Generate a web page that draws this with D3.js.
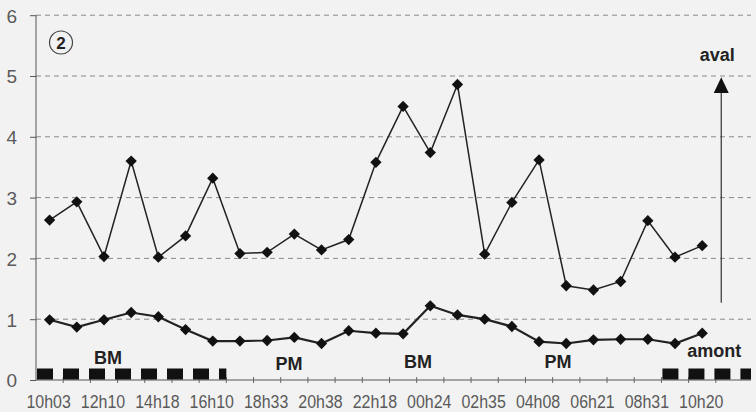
<!DOCTYPE html>
<html>
<head>
<meta charset="utf-8">
<script src="https://cdn.jsdelivr.net/npm/d3@7"></script>
<style>
  html, body { margin: 0; padding: 0; background: #f2f2f2; }
  svg { display: block; }
  .tick-label { font-family: "Liberation Sans Narrow", "Liberation Sans", sans-serif; fill: #5a5a5a; }
  .note { font-family: "Liberation Sans", Arial, sans-serif; font-weight: bold; fill: #222; }
</style>
</head>
<body>
<svg id="chart" width="756" height="412"></svg>
<script>
// Sampling times (one label every other measurement)
const timeLabels = ["10h03", "12h10", "14h18", "16h10", "18h33", "20h38", "22h18",
                    "00h24", "02h35", "04h08", "06h21", "08h31", "10h20"];
// Measurement slots (25 samples, one extra empty slot at the end of the axis)
const slots = d3.range(26);

// Downstream (aval) series
const avalValues = [2.63, 2.93, 2.03, 3.60, 2.02, 2.37, 3.32, 2.08, 2.10, 2.40, 2.14, 2.31,
                    3.58, 4.50, 3.74, 4.86, 2.07, 2.92, 3.62, 1.55, 1.48, 1.62, 2.62, 2.02, 2.21];
// Upstream (amont) series
const amontValues = [0.99, 0.87, 0.99, 1.11, 1.04, 0.83, 0.64, 0.64, 0.65, 0.70, 0.60, 0.81,
                     0.77, 0.76, 1.22, 1.07, 1.00, 0.88, 0.63, 0.60, 0.66, 0.67, 0.67, 0.60, 0.77];
// Y axis ticks
const yTicks = [0, 1, 2, 3, 4, 5, 6];
// Night periods shown as a black band on the time axis (slot start, slot end)
const nightSpans = [[0, 7], [23, 26]];
// Tide phase labels
const tideLabels = ["BM", "PM", "BM", "PM"];

const svg = d3.select("#chart");

const x = d3.scaleBand().domain(slots).range([36, 743]).padding(0);
const y = d3.scaleLinear().domain([0, 6]).range([380, 15.2]);
const cx = i => x(i) + x.bandwidth() / 2;
const gridRight = 751;

// Horizontal dashed grid lines
svg.append("g")
  .selectAll("line")
  .data(yTicks.filter(d => d > 0))
  .join("line")
  .attr("x1", x.range()[0]).attr("x2", gridRight)
  .attr("y1", d => y(d)).attr("y2", d => y(d))
  .attr("stroke", "#8a8a8a").attr("stroke-width", 1)
  .attr("stroke-dasharray", "5,4");

// Y axis
const yAxis = svg.append("g")
  .attr("transform", `translate(${x.range()[0]},0)`)
  .call(d3.axisLeft(y).tickValues(yTicks).tickSize(6).tickPadding(13).tickFormat(d3.format("d")));
yAxis.select(".domain").attr("stroke", "#555").attr("d", `M0,${y(0)}V${y(6)}`);
yAxis.selectAll(".tick line").attr("stroke", "#555");
yAxis.selectAll(".tick text").attr("class", "tick-label").attr("font-size", 19).attr("dy", "0.36em");

// X axis: ticks at slot boundaries, labels under every other sample
const xAxis = svg.append("g").attr("transform", `translate(0,${y(0)})`);
xAxis.append("line")
  .attr("x1", x.range()[0]).attr("x2", gridRight)
  .attr("y1", 0).attr("y2", 0)
  .attr("stroke", "#555").attr("stroke-width", 1);
xAxis.selectAll("line.tk")
  .data(slots.slice(1))
  .join("line")
  .attr("class", "tk")
  .attr("x1", d => x(d)).attr("x2", d => x(d))
  .attr("y1", -3).attr("y2", 3)
  .attr("stroke", "#666");
xAxis.selectAll("text")
  .data(timeLabels)
  .join("text")
  .attr("class", "tick-label")
  .attr("font-size", 19)
  .attr("text-anchor", "middle")
  .attr("transform", (d, i) => `translate(${cx(i * 2) - 1},28) scale(0.84,1)`)
  .text(d => d);

// Night periods: thick dashed black band sitting on the axis
svg.append("g")
  .selectAll("line")
  .data(nightSpans)
  .join("line")
  .attr("x1", d => x(d[0]) + 1)
  .attr("x2", d => d[1] < slots.length ? x(d[1]) : gridRight)
  .attr("y1", y(0) - 6).attr("y2", y(0) - 6)
  .attr("stroke", "#111").attr("stroke-width", 11)
  .attr("stroke-dasharray", "16,10");

// Series lines and diamond markers
const line = d3.line().x((d, i) => cx(i)).y(d => y(d));
const diamond = d3.symbol().type(d3.symbolSquare).size(64);

function drawSeries(values, width) {
  const g = svg.append("g");
  g.append("path")
    .datum(values)
    .attr("d", line)
    .attr("fill", "none")
    .attr("stroke", "#222")
    .attr("stroke-width", width);
  g.selectAll("path.pt")
    .data(values)
    .join("path")
    .attr("class", "pt")
    .attr("d", diamond)
    .attr("transform", (d, i) => `translate(${cx(i)},${y(d)}) rotate(45)`)
    .attr("fill", "#111");
}
drawSeries(avalValues, 1.5);
drawSeries(amontValues, 2.2);

// Tide phase labels along the bottom
const tidePos = [[2.65, 0.26], [9.3, 0.17], [14.05, 0.2], [19.2, 0.2]];
svg.append("g")
  .selectAll("text")
  .data(tideLabels)
  .join("text")
  .attr("class", "note")
  .attr("font-size", 18)
  .attr("text-anchor", "middle")
  .attr("x", (d, i) => x(0) + tidePos[i][0] * x.bandwidth())
  .attr("y", (d, i) => y(tidePos[i][1]))
  .text(d => d);

// Direction arrow from amont to aval
const arrowX = x(0) + 25.2 * x.bandwidth();
svg.append("line")
  .attr("x1", arrowX).attr("x2", arrowX)
  .attr("y1", y(1.27)).attr("y2", y(4.75))
  .attr("stroke", "#333").attr("stroke-width", 1.2);
svg.append("path")
  .attr("d", `M${arrowX},${y(4.98)}L${arrowX - 7.5},${y(4.72)}L${arrowX + 7.5},${y(4.72)}Z`)
  .attr("fill", "#111");
svg.append("text").attr("class", "note").attr("font-size", 18).attr("text-anchor", "middle")
  .attr("x", arrowX - 4).attr("y", y(5.25)).text("aval");
svg.append("text").attr("class", "note").attr("font-size", 18).attr("text-anchor", "middle")
  .attr("x", arrowX - 7).attr("y", y(0.38)).text("amont");

// Panel number
const badge = svg.append("g").attr("transform", `translate(61,42.5)`);
badge.append("circle").attr("r", 11.5).attr("fill", "none").attr("stroke", "#444").attr("stroke-width", 1.2);
badge.append("text").attr("class", "note").attr("font-size", 17)
  .attr("text-anchor", "middle").attr("dy", "0.36em").text("2");
</script>
</body>
</html>
